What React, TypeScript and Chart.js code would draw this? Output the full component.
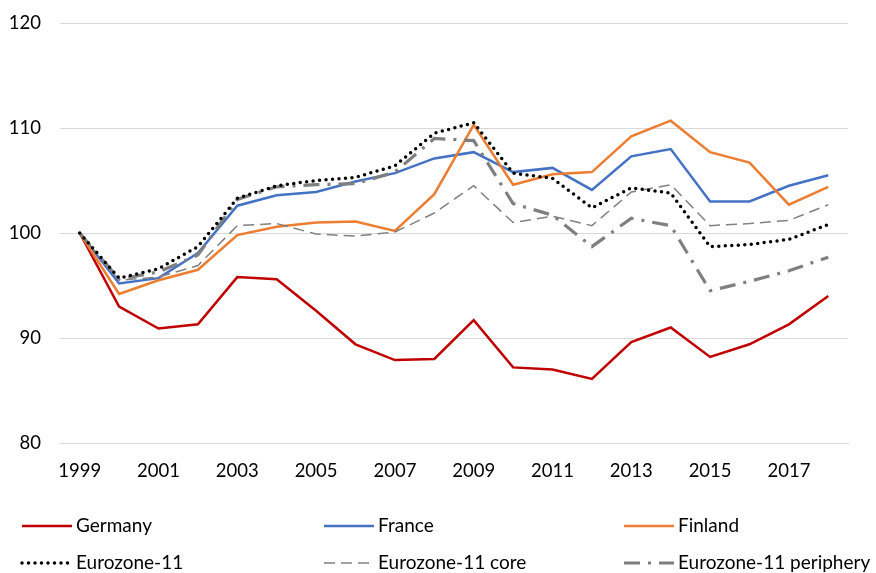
import React, { useEffect, useRef } from "react";
import { Chart, registerables } from "chart.js";

Chart.register(...registerables);

const years = [
  "1999", "2000", "2001", "2002", "2003", "2004", "2005", "2006", "2007", "2008",
  "2009", "2010", "2011", "2012", "2013", "2014", "2015", "2016", "2017", "2018",
];

const germany = [100, 93.0, 90.9, 91.3, 95.8, 95.6, 92.6, 89.4, 87.9, 88.0, 91.7, 87.2, 87.0, 86.1, 89.6, 91.0, 88.2, 89.4, 91.3, 94.0];
const france = [100, 95.2, 95.7, 98.1, 102.6, 103.6, 103.9, 104.9, 105.7, 107.1, 107.7, 105.8, 106.2, 104.1, 107.3, 108.0, 103.0, 103.0, 104.5, 105.5];
const finland = [100, 94.2, 95.5, 96.5, 99.8, 100.6, 101.0, 101.1, 100.2, 103.7, 110.3, 104.6, 105.6, 105.8, 109.2, 110.7, 107.7, 106.7, 102.7, 104.4];
const eurozone11 = [100, 95.7, 96.6, 98.7, 103.3, 104.5, 105.0, 105.3, 106.4, 109.5, 110.5, 105.7, 105.2, 102.4, 104.3, 103.8, 98.7, 98.9, 99.4, 100.8];
const eurozoneCore = [100, 95.5, 95.8, 96.9, 100.7, 100.9, 99.9, 99.7, 100.1, 101.9, 104.5, 101.0, 101.6, 100.7, 103.9, 104.6, 100.7, 100.9, 101.2, 102.7];
const eurozonePeriphery = [100, 95.6, 96.3, 97.9, 103.2, 104.4, 104.6, 104.7, 105.8, 109.0, 108.8, 102.8, 101.7, 98.7, 101.4, 100.7, 94.5, 95.4, 96.4, 97.7];

const yTicks = [80, 90, 100, 110, 120];

const FONT = "Lato, 'Liberation Sans', sans-serif";

const gridLegend = {
  id: "gridLegend",
  afterDraw(chart: any) {
    const ctx = chart.ctx;
    const cols = [22, 324, 624];
    const rows = [526, 563];
    const sampleW = 50;
    chart.data.datasets.forEach((ds: any, i: number) => {
      const x = cols[i % 3];
      const y = rows[Math.floor(i / 3)];
      ctx.save();
      ctx.strokeStyle = ds.borderColor;
      ctx.lineWidth = ds.borderWidth;
      ctx.setLineDash(ds.borderDash || []);
      ctx.lineCap = ds.borderCapStyle || "butt";
      ctx.beginPath();
      ctx.moveTo(x, y);
      ctx.lineTo(x + sampleW, y);
      ctx.stroke();
      ctx.setLineDash([]);
      ctx.fillStyle = "#000";
      ctx.font = `19px ${FONT}`;
      ctx.textBaseline = "middle";
      ctx.textAlign = "left";
      ctx.fillText(ds.label, x + sampleW + 4, y);
      ctx.restore();
    });
  },
};

export default function App() {
  const ref = useRef<HTMLCanvasElement | null>(null);

  useEffect(() => {
    if (!ref.current) return;
    const common = { pointRadius: 0, pointHoverRadius: 0, tension: 0, fill: false };
    const chart = new Chart(ref.current, {
      type: "line",
      data: {
        labels: years,
        datasets: [
          { ...common, label: "Germany", data: germany, borderColor: "#C00000", borderWidth: 2.5, order: 5 },
          { ...common, label: "France", data: france, borderColor: "#4472C4", borderWidth: 2.5, order: 4 },
          { ...common, label: "Finland", data: finland, borderColor: "#ED7D31", borderWidth: 2.5, order: 3 },
          { ...common, label: "Eurozone-11", data: eurozone11, borderColor: "#000000", borderWidth: 3.5, borderDash: [0, 6.5], borderCapStyle: "round", order: 0 },
          { ...common, label: "Eurozone-11 core", data: eurozoneCore, borderColor: "#808080", borderWidth: 1.5, borderDash: [11, 6], order: 2 },
          { ...common, label: "Eurozone-11 periphery", data: eurozonePeriphery, borderColor: "#7F7F7F", borderWidth: 3.2, borderDash: [16, 8, 3, 8], order: 1 },
        ] as any,
      },
      options: {
        responsive: false,
        animation: false,
        layout: { padding: { top: 23, bottom: 80, left: 0, right: 28 } },
        plugins: { legend: { display: false }, tooltip: { enabled: false } },
        scales: {
          x: {
            offset: true,
            grid: { display: false, drawTicks: false },
            border: { display: true, color: "#D9D9D9", width: 1 },
            afterFit: (s: any) => { s.height = 50; },
            ticks: {
              autoSkip: false,
              maxRotation: 0,
              padding: 17,
              color: "#000",
              font: { family: FONT, size: 18.5 },
              callback: (_v: any, i: number) => (i % 2 === 0 ? years[i] : ""),
            },
          },
          y: {
            min: yTicks[0],
            max: yTicks[yTicks.length - 1],
            afterFit: (s: any) => { s.width = 60; s.paddingTop = 0; s.paddingBottom = 0; },
            afterBuildTicks: (s: any) => { s.ticks = yTicks.map((v) => ({ value: v })); },
            grid: { color: "#D9D9D9", lineWidth: 1, drawTicks: false },
            border: { display: false },
            ticks: {
              padding: 19,
              color: "#000",
              font: { family: FONT, size: 18.5 },
            },
          },
        },
      },
      plugins: [gridLegend],
    });
    return () => chart.destroy();
  }, []);

  return (
    <div style={{ position: "absolute", left: 0, top: 0, width: 876, height: 573, background: "#fff" }}>
      <canvas ref={ref} width={876} height={573} />
    </div>
  );
}
